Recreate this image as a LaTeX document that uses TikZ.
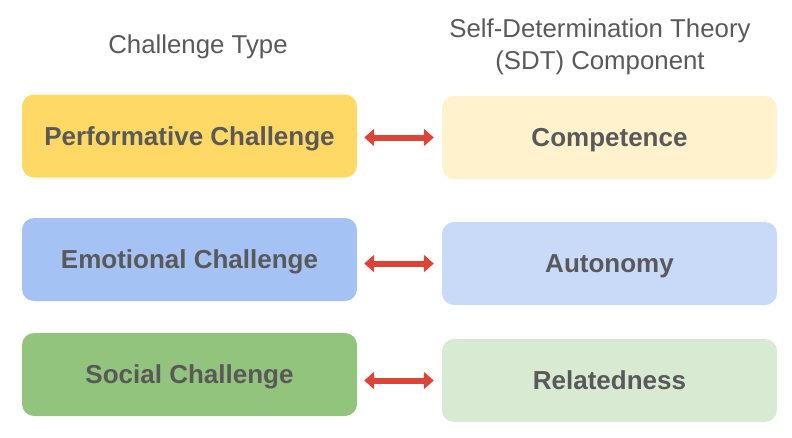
\documentclass[tikz,border=0pt]{standalone}
\usepackage{fontspec}
\setmainfont{Liberation Sans}
\usetikzlibrary{arrows.meta}
\definecolor{txtgray}{HTML}{595959}
\definecolor{yellowA}{HTML}{FFD966}
\definecolor{blueA}{HTML}{A4C2F4}
\definecolor{greenA}{HTML}{93C47D}
\definecolor{yellowB}{HTML}{FFF2CC}
\definecolor{blueB}{HTML}{C9DAF8}
\definecolor{greenB}{HTML}{D9EAD3}
\definecolor{arrowred}{HTML}{DB4437}
\tikzset{
  cbox/.style={rounded corners=12pt, minimum width=335pt, minimum height=83pt, inner sep=0pt,
    text=txtgray, font=\fontsize{26}{30}\selectfont\bfseries, text height=18.6pt, text depth=0pt},
  header/.style={text=txtgray, font=\fontsize{25.8}{32}\selectfont, align=center, inner sep=0pt},
  link/.style={arrowred, line width=6pt,
    {Triangle[length=10pt,width=17pt]}-{Triangle[length=10pt,width=17pt]},
    shorten <=7pt, shorten >=8pt}
}
\begin{document}
\begin{tikzpicture}[x=1pt,y=-1pt]
\useasboundingbox (0,0) rectangle (792,437);
\node[header] (h1) at (198,47) {Challenge Type};
\node[header] (h2) at (600,47) {Self-Determination Theory\\(SDT) Component};

\node[cbox, fill=yellowA] (l1) at (189.5,136) {Performative Challenge};
\node[cbox, fill=blueA]   (l2) at (189.5,259.5) {Emotional Challenge};
\node[cbox, fill=greenA]  (l3) at (189.5,374.5) {Social Challenge};

\node[cbox, fill=yellowB] (r1) at (609.5,137.5) {Competence};
\node[cbox, fill=blueB]   (r2) at (609.5,263.5) {Autonomy};
\node[cbox, fill=greenB]  (r3) at (609.5,380.5) {Relatedness};

\draw[link] (l1.east |- r1.west) -- (r1.west);
\draw[link] (l2.east |- r2.west) -- (r2.west);
\draw[link] (l3.east |- r3.west) -- (r3.west);
\end{tikzpicture}
\end{document}
